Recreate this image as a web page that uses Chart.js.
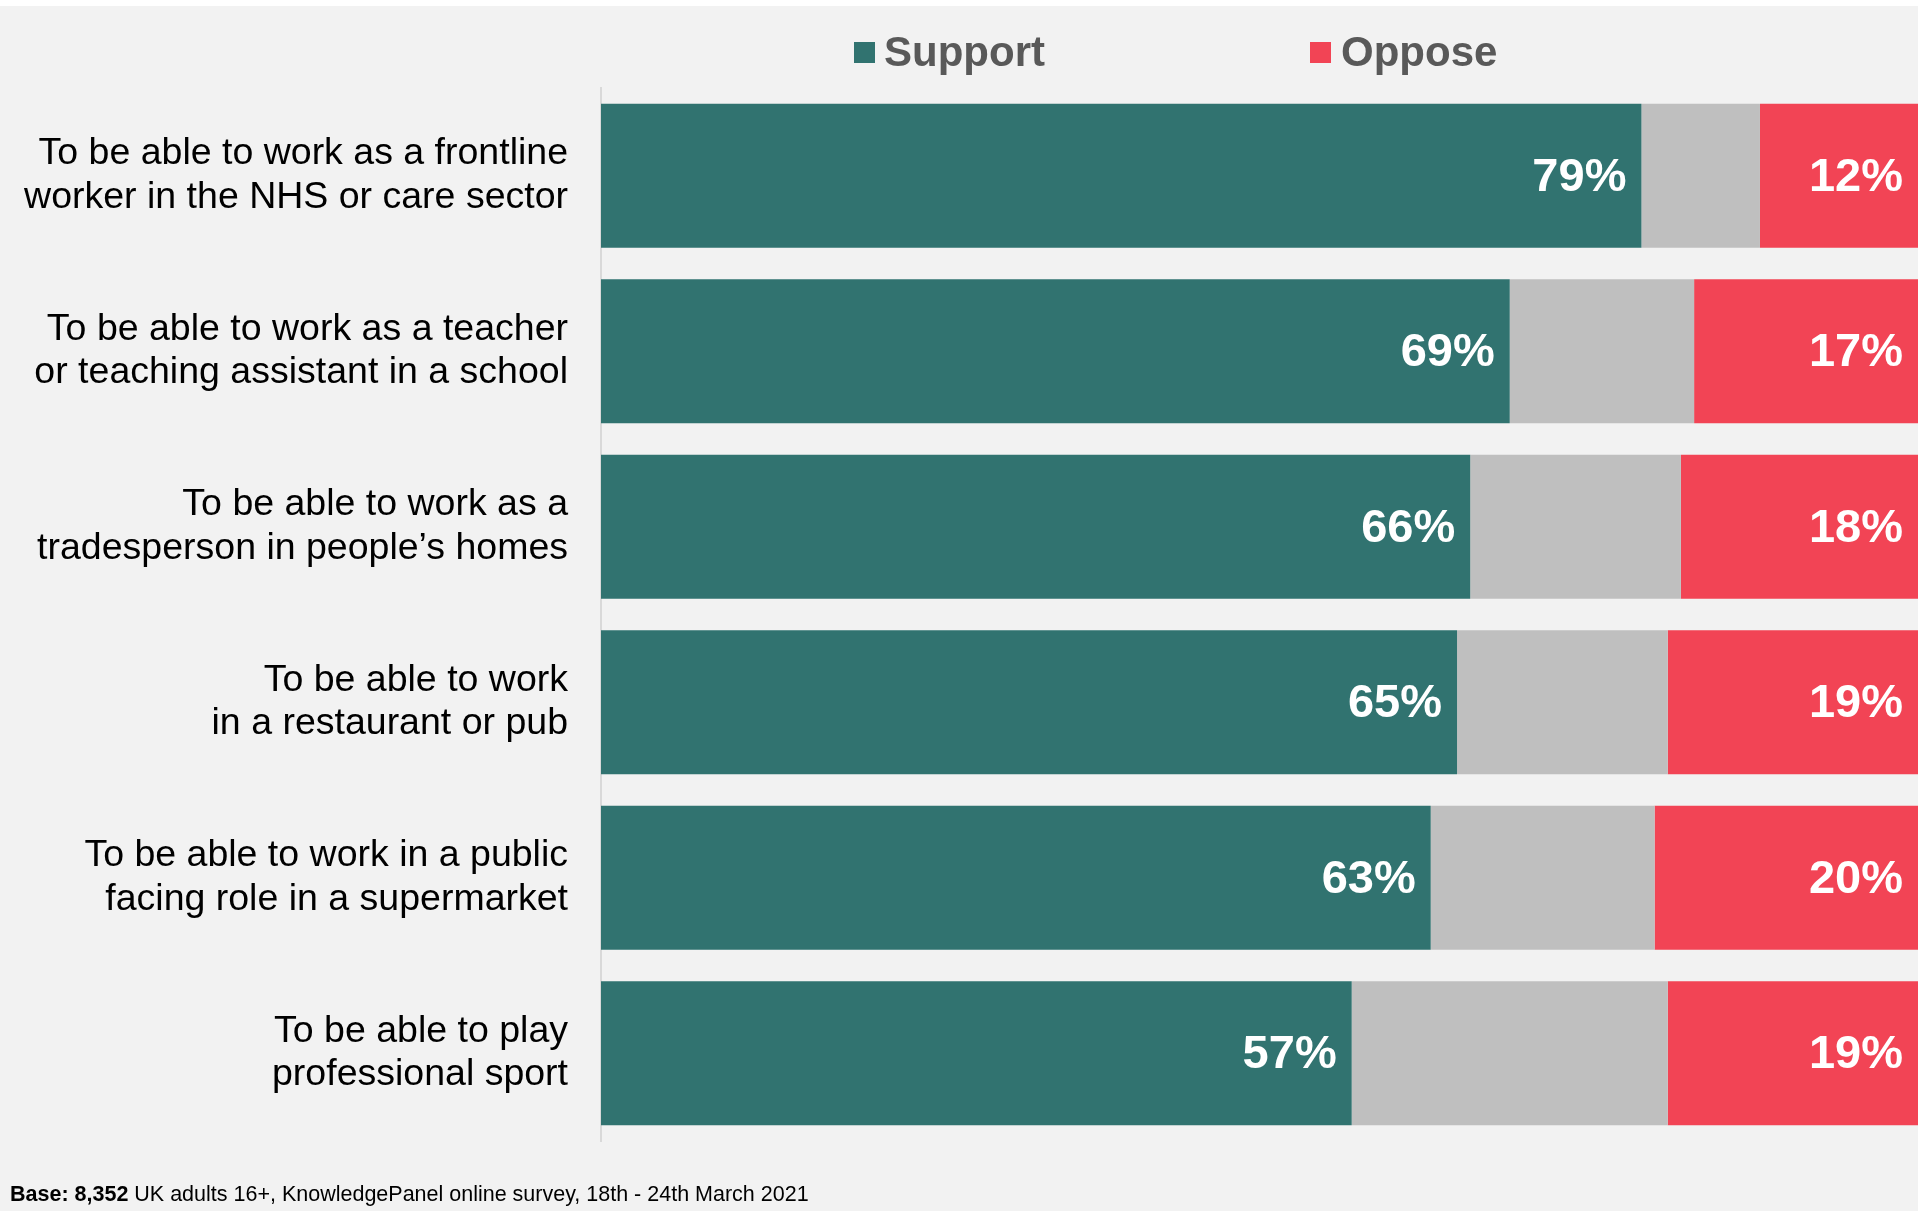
<!DOCTYPE html>
<html>
<head>
<meta charset="utf-8">
<script src="https://cdn.jsdelivr.net/npm/chart.js@4"></script>
<style>
    body { margin: 0; background: #f2f2f2; font-family: 'Liberation Sans', Arial, sans-serif; }
    #wrap { position: relative; width: 1918px; height: 1211px; overflow: hidden; }
    #topStrip { position: absolute; left: 0; top: 0; width: 1918px; height: 6px; background: #fff; }
    .legend-box { position: absolute; top: 42px; width: 21px; height: 21px; }
    .legend-text { position: absolute; top: 28px; font-weight: bold; font-size: 42px; color: #595959; line-height: 48px; }
    #footer { position: absolute; left: 10px; top: 1182px; font-size: 21.5px; color: #000; }
</style>
</head>
<body>
<div id="wrap">
    <div id="topStrip"></div>
    <canvas id="chart" width="1918" height="1211"></canvas>
    <div class="legend-box" style="left:854px;background:#317370"></div>
    <div class="legend-text" style="left:884px">Support</div>
    <div class="legend-box" style="left:1310px;background:#f24455"></div>
    <div class="legend-text" style="left:1341px">Oppose</div>
    <div id="footer"><b>Base: 8,352</b> UK adults 16+, KnowledgePanel online survey, 18th - 24th March 2021</div>
</div>

<script>
const categories = [
    ['To be able to work as a frontline', 'worker in the NHS or care sector'],
    ['To be able to work as a teacher', 'or teaching assistant in a school'],
    ['To be able to work as a', 'tradesperson in people\u2019s homes'],
    ['To be able to work', 'in a restaurant or pub'],
    ['To be able to work in a public', 'facing role in a supermarket'],
    ['To be able to play', 'professional sport']
];
const support = [79, 69, 66, 65, 63, 57];
const neither = [9, 14, 16, 16, 17, 24];
const oppose = [12, 17, 18, 19, 20, 19];

const TEAL = '#317370';
const GREY = '#bfbfbf';
const RED = '#f24455';

// draws the white % labels at the end of support / oppose bars
const barLabels = {
    id: 'barLabels',
    afterDatasetsDraw(chart) {
        let ctx = chart.ctx;
        ctx.save();
        ctx.font = 'bold 47px "Liberation Sans", Arial, sans-serif';
        ctx.fillStyle = '#fff';
        ctx.textAlign = 'right';
        ctx.textBaseline = 'middle';
        [0, 2].forEach(function (i) {
            let meta = chart.getDatasetMeta(i);
            let values = chart.data.datasets[i].data;
            meta.data.forEach(function (bar, j) {
                ctx.fillText(values[j] + '%', bar.x - 15, bar.y + 2);
            });
        });
        ctx.restore();
    }
};

let chart = new Chart(document.getElementById('chart').getContext('2d'), {
    type: 'bar',
    data: {
        labels: categories,
        datasets: [
            { label: 'Support', data: support, backgroundColor: TEAL },
            { label: 'Neither', data: neither, backgroundColor: GREY },
            { label: 'Oppose', data: oppose, backgroundColor: RED }
        ]
    },
    options: {
        indexAxis: 'y',
        responsive: false,
        animation: false,
        devicePixelRatio: 1,
        layout: { padding: { top: 88, bottom: 70, left: 0, right: 0 } },
        datasets: { bar: { barPercentage: 1, categoryPercentage: 0.82 } },
        plugins: { legend: { display: false }, tooltip: { enabled: false } },
        scales: {
            x: { stacked: true, min: 0, max: 100, display: false },
            y: {
                stacked: true,
                grid: { drawOnChartArea: false, drawTicks: false },
                border: { display: true, color: '#d9d9d9', width: 2 },
                ticks: {
                    color: '#000',
                    padding: 33,
                    font: { family: '"Liberation Sans", Arial, sans-serif', size: 37.5, lineHeight: 1.16 }
                },
                afterFit: function (scale) {
                    scale.width = 601;
                    scale.paddingTop = 0;     // keep labels from shrinking the plot
                    scale.paddingBottom = 0;
                }
            }
        }
    },
    plugins: [barLabels]
});
</script>
</body>
</html>
